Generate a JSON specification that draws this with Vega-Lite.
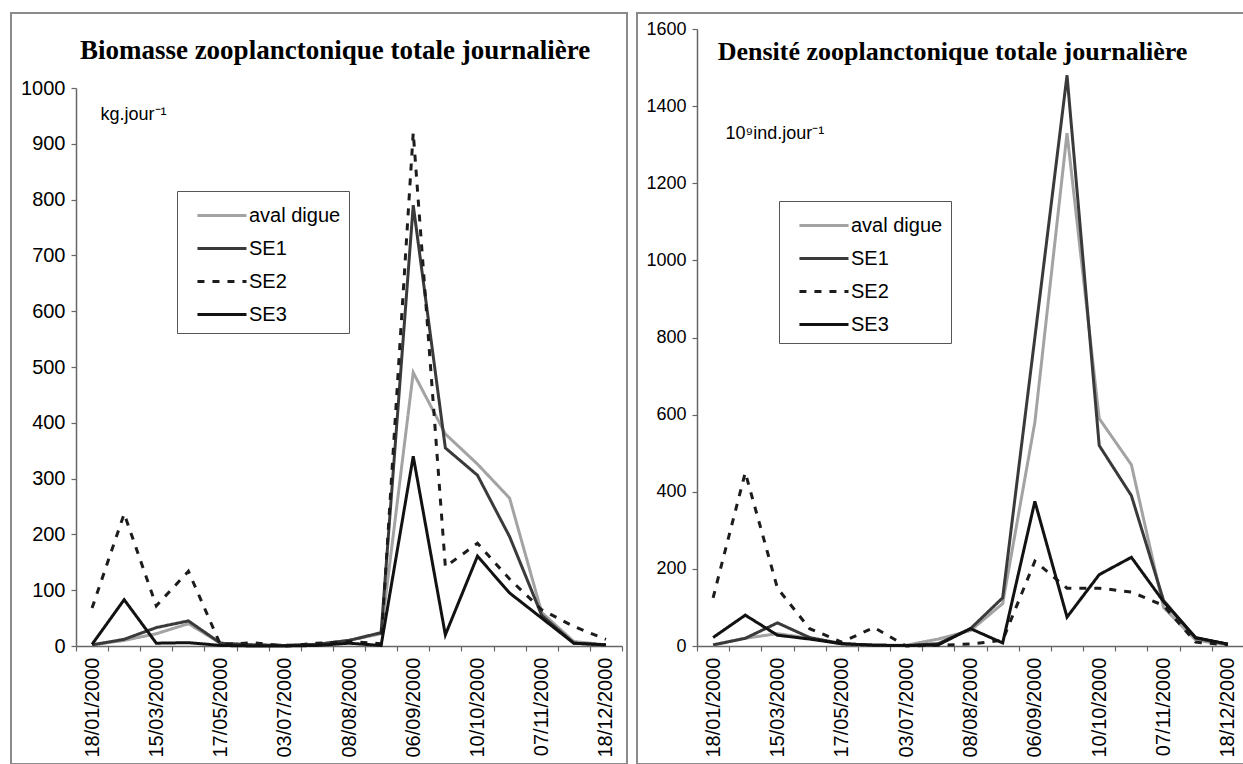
{
  "$schema": "https://vega.github.io/schema/vega-lite/v6.json",
  "background": "white",
  "padding": {"left": 0, "top": 12, "right": 0, "bottom": 0},
  "spacing": 10,
  "bounds": "flush",
  "resolve": {
    "scale": {"color": "independent", "strokeDash": "independent", "strokeWidth": "independent"},
    "legend": {"color": "independent", "strokeDash": "independent", "strokeWidth": "independent"}
  },
  "datasets": {
    "bio": [
      {"d":"18/01/2000","aval digue":2,"SE1":2,"SE2":68,"SE3":3},
      {"d":"15/02/2000","aval digue":10,"SE1":12,"SE2":237,"SE3":83},
      {"d":"15/03/2000","aval digue":22,"SE1":33,"SE2":72,"SE3":5},
      {"d":"12/04/2000","aval digue":40,"SE1":45,"SE2":134,"SE3":6},
      {"d":"17/05/2000","aval digue":5,"SE1":5,"SE2":2,"SE3":1},
      {"d":"06/06/2000","aval digue":2,"SE1":2,"SE2":6,"SE3":0},
      {"d":"03/07/2000","aval digue":1,"SE1":1,"SE2":0,"SE3":0},
      {"d":"19/07/2000","aval digue":3,"SE1":3,"SE2":5,"SE3":1},
      {"d":"08/08/2000","aval digue":10,"SE1":10,"SE2":8,"SE3":5},
      {"d":"22/08/2000","aval digue":22,"SE1":24,"SE2":4,"SE3":1},
      {"d":"06/09/2000","aval digue":490,"SE1":790,"SE2":920,"SE3":340},
      {"d":"20/09/2000","aval digue":380,"SE1":355,"SE2":142,"SE3":20},
      {"d":"10/10/2000","aval digue":326,"SE1":306,"SE2":184,"SE3":161},
      {"d":"24/10/2000","aval digue":265,"SE1":196,"SE2":120,"SE3":95},
      {"d":"07/11/2000","aval digue":60,"SE1":55,"SE2":65,"SE3":50},
      {"d":"28/11/2000","aval digue":8,"SE1":5,"SE2":35,"SE3":5},
      {"d":"18/12/2000","aval digue":2,"SE1":2,"SE2":12,"SE3":2}
    ],
    "dens": [
      {"d":"18/01/2000","aval digue":2,"SE1":3,"SE2":125,"SE3":22},
      {"d":"15/02/2000","aval digue":20,"SE1":20,"SE2":450,"SE3":80},
      {"d":"15/03/2000","aval digue":32,"SE1":60,"SE2":150,"SE3":28},
      {"d":"12/04/2000","aval digue":20,"SE1":22,"SE2":45,"SE3":18},
      {"d":"17/05/2000","aval digue":5,"SE1":6,"SE2":10,"SE3":6},
      {"d":"06/06/2000","aval digue":2,"SE1":2,"SE2":48,"SE3":2},
      {"d":"03/07/2000","aval digue":2,"SE1":1,"SE2":0,"SE3":1},
      {"d":"19/07/2000","aval digue":18,"SE1":6,"SE2":2,"SE3":3},
      {"d":"08/08/2000","aval digue":40,"SE1":45,"SE2":5,"SE3":45},
      {"d":"22/08/2000","aval digue":110,"SE1":125,"SE2":15,"SE3":8},
      {"d":"06/09/2000","aval digue":580,"SE1":800,"SE2":220,"SE3":375},
      {"d":"20/09/2000","aval digue":1330,"SE1":1480,"SE2":150,"SE3":75},
      {"d":"10/10/2000","aval digue":590,"SE1":520,"SE2":150,"SE3":185},
      {"d":"24/10/2000","aval digue":470,"SE1":390,"SE2":140,"SE3":230},
      {"d":"07/11/2000","aval digue":100,"SE1":118,"SE2":105,"SE3":115},
      {"d":"28/11/2000","aval digue":15,"SE1":20,"SE2":10,"SE3":22},
      {"d":"18/12/2000","aval digue":3,"SE1":5,"SE2":3,"SE3":5}
    ]
  },
  "hconcat": [
    {
      "width": 616,
      "height": 751,
      "data": {"name": "bio"},
      "transform": [{"fold": ["aval digue", "SE1", "SE2", "SE3"], "as": ["serie", "v"]}],
      "title": {"text": "Biomasse zooplanctonique totale journalière", "font": "Liberation Serif", "fontWeight": "bold", "fontSize": 27, "color": "black", "anchor": "middle", "offset": -73, "baseline": "alphabetic", "dx": 16},
      "mark": {"type": "line", "strokeJoin": "miter"},
      "encoding": {
        "x": {
          "field": "d", "type": "ordinal", "sort": null,
          "scale": {"type": "band", "range": [65, 611], "paddingInner": 0, "paddingOuter": 0},
          "axis": {"title": null, "offset": -118, "labelAngle": -90, "labelFontSize": 20, "labelOverlap": false, "tickBand": "extent", "tickSize": 5, "labelPadding": 6,
                   "labelExpr": "indexof(['18/01/2000','15/03/2000','17/05/2000','03/07/2000','08/08/2000','06/09/2000','10/10/2000','07/11/2000','18/12/2000'], datum.value) >= 0 ? datum.label : ''"}
        },
        "y": {
          "field": "v", "type": "quantitative",
          "scale": {"domain": [0, 1000], "range": [633, 75], "nice": false},
          "axis": {"title": "kg.jour⁻¹", "titleAngle": 0, "titleX": 24, "titleY": 106, "titleAlign": "left", "titleBaseline": "alphabetic", "titleFont": "Liberation Sans", "titleFontSize": 18, "titleFontWeight": "normal", "titleColor": "black",
                   "offset": -65, "format": "d", "values": [0,100,200,300,400,500,600,700,800,900,1000], "labelFontSize": 20, "tickSize": 5, "labelPadding": 6}
        },
        "color": {
          "field": "serie", "type": "nominal",
          "scale": {"domain": ["aval digue", "SE1", "SE2", "SE3"], "range": ["#a3a3a3", "#3a3a3a", "#1c1c1c", "#121212"]},
          "legend": {"title": null, "orient": "none", "legendX": 166, "legendY": 178, "symbolType": "M-0.27,0H3", "symbolSize": 900, "labelFontSize": 20, "labelOffset": 31, "padding": 8, "rowPadding": 6, "strokeColor": "#555", "fillColor": "white"}
        },
        "strokeDash": {
          "field": "serie", "type": "nominal",
          "scale": {"domain": ["aval digue", "SE1", "SE2", "SE3"], "range": [[1,0],[1,0],[7,8],[1,0]]},
          "legend": {"title": null, "orient": "none", "legendX": 166, "legendY": 178, "symbolType": "M-0.27,0H3", "symbolSize": 900, "labelFontSize": 20, "labelOffset": 31, "padding": 8, "rowPadding": 6, "strokeColor": "#555", "fillColor": "white"}
        },
        "strokeWidth": {
          "field": "serie", "type": "nominal",
          "scale": {"domain": ["aval digue", "SE1", "SE2", "SE3"], "range": [3, 3, 4, 4]},
          "legend": {"title": null, "orient": "none", "legendX": 166, "legendY": 178, "symbolType": "M-0.27,0H3", "symbolSize": 900, "labelFontSize": 20, "labelOffset": 31, "padding": 8, "rowPadding": 6, "strokeColor": "#555", "fillColor": "white"}
        }
      }
    },
    {
      "width": 607,
      "height": 751,
      "data": {"name": "dens"},
      "transform": [{"fold": ["aval digue", "SE1", "SE2", "SE3"], "as": ["serie", "v"]}],
      "title": {"text": "Densité zooplanctonique totale journalière", "font": "Liberation Serif", "fontWeight": "bold", "fontSize": 26, "color": "black", "anchor": "middle", "offset": -73, "baseline": "alphabetic", "dx": 12},
      "mark": {"type": "line", "strokeJoin": "miter"},
      "encoding": {
        "x": {
          "field": "d", "type": "ordinal", "sort": null,
          "scale": {"type": "band", "range": [60, 607], "paddingInner": 0, "paddingOuter": 0},
          "axis": {"title": null, "offset": -118, "labelAngle": -90, "labelFontSize": 20, "labelOverlap": false, "tickBand": "extent", "tickSize": 5, "labelPadding": 6,
                   "labelExpr": "indexof(['18/01/2000','15/03/2000','17/05/2000','03/07/2000','08/08/2000','06/09/2000','10/10/2000','07/11/2000','18/12/2000'], datum.value) >= 0 ? datum.label : ''"}
        },
        "y": {
          "field": "v", "type": "quantitative",
          "scale": {"domain": [0, 1600], "range": [633, 16], "nice": false},
          "axis": {"title": "10⁹ind.jour⁻¹", "titleAngle": 0, "titleX": 28, "titleY": 125, "titleAlign": "left", "titleBaseline": "alphabetic", "titleFont": "Liberation Sans", "titleFontSize": 18, "titleFontWeight": "normal", "titleColor": "black",
                   "offset": -60, "format": "d", "values": [0,200,400,600,800,1000,1200,1400,1600], "labelFontSize": 18, "tickSize": 5, "labelPadding": 6}
        },
        "color": {
          "field": "serie", "type": "nominal",
          "scale": {"domain": ["aval digue", "SE1", "SE2", "SE3"], "range": ["#a3a3a3", "#3a3a3a", "#1c1c1c", "#121212"]},
          "legend": {"title": null, "orient": "none", "legendX": 142, "legendY": 188, "symbolType": "M-0.27,0H3", "symbolSize": 900, "labelFontSize": 20, "labelOffset": 31, "padding": 8, "rowPadding": 6, "strokeColor": "#555", "fillColor": "white"}
        },
        "strokeDash": {
          "field": "serie", "type": "nominal",
          "scale": {"domain": ["aval digue", "SE1", "SE2", "SE3"], "range": [[1,0],[1,0],[7,8],[1,0]]},
          "legend": {"title": null, "orient": "none", "legendX": 142, "legendY": 188, "symbolType": "M-0.27,0H3", "symbolSize": 900, "labelFontSize": 20, "labelOffset": 31, "padding": 8, "rowPadding": 6, "strokeColor": "#555", "fillColor": "white"}
        },
        "strokeWidth": {
          "field": "serie", "type": "nominal",
          "scale": {"domain": ["aval digue", "SE1", "SE2", "SE3"], "range": [3, 3, 4, 4]},
          "legend": {"title": null, "orient": "none", "legendX": 142, "legendY": 188, "symbolType": "M-0.27,0H3", "symbolSize": 900, "labelFontSize": 20, "labelOffset": 31, "padding": 8, "rowPadding": 6, "strokeColor": "#555", "fillColor": "white"}
        }
      }
    }
  ],
  "config": {
    "view": {"stroke": "#8a8a8a", "strokeWidth": 2},
    "axis": {"labelFont": "Liberation Sans", "labelColor": "black", "domainColor": "#666666", "tickColor": "#666666", "domainWidth": 1.5, "tickWidth": 1.2, "grid": false},
    "legend": {"labelFont": "Liberation Sans", "labelColor": "black"}
  }
}
